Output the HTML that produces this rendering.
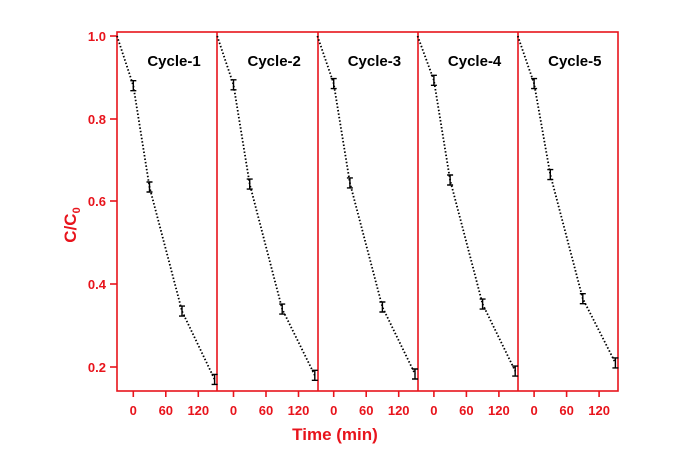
<!DOCTYPE html><html><head><style>body{margin:0;background:#fff}</style></head><body>
<svg width="697" height="460" xmlns="http://www.w3.org/2000/svg" font-family="Liberation Sans, Arial, sans-serif" font-weight="bold">
<defs>
<g id="ticks" stroke="#e8141c" stroke-width="1.6">
<line x1="16.3" y1="391" x2="16.3" y2="397"/><line x1="48.8" y1="391" x2="48.8" y2="397"/><line x1="81.3" y1="391" x2="81.3" y2="397"/>
</g>
<g id="tl" fill="#e8141c" font-size="13" text-anchor="middle">
<text x="16.3" y="415">0</text><text x="48.8" y="415">60</text><text x="81.3" y="415">120</text>
</g>
</defs>
<g stroke="#e8141c" stroke-width="1.6" fill="none">
<rect x="117" y="32" width="501" height="359"/>
<line x1="217" y1="32" x2="217" y2="391"/><line x1="318" y1="32" x2="318" y2="391"/>
<line x1="418" y1="32" x2="418" y2="391"/><line x1="518" y1="32" x2="518" y2="391"/>
<line x1="110" y1="36" x2="117" y2="36"/><line x1="110" y1="119" x2="117" y2="119"/>
<line x1="110" y1="201" x2="117" y2="201"/><line x1="110" y1="284" x2="117" y2="284"/>
<line x1="110" y1="367" x2="117" y2="367"/>
</g>
<g fill="#e8141c" font-size="13" text-anchor="end">
<text x="106" y="41">1.0</text><text x="106" y="124">0.8</text><text x="106" y="206">0.6</text><text x="106" y="289">0.4</text><text x="106" y="372">0.2</text>
</g>
<text transform="translate(76,225) rotate(-90)" fill="#e8141c" font-size="17" text-anchor="middle">C/C<tspan font-size="11" dy="4">0</tspan></text>
<text x="335" y="440" fill="#e8141c" font-size="17" text-anchor="middle">Time (min)</text>

<g transform="translate(117,0)">
<use href="#ticks"/><use href="#tl"/>
<text x="57" y="66" font-size="15" text-anchor="middle">Cycle-1</text>
<polyline points="0,36 16.3,85.7 32.5,187 65,311.1 97.6,379.4" fill="none" stroke="#000" stroke-width="1.8" stroke-dasharray="1.5,2"/>
<path d="M13.3,80.7h6m-3,0v10m-3,0h6M29.5,182h6m-3,0v10m-3,0h6M62,306.1h6m-3,0v10m-3,0h6M94.6,374.4h6m-3,0v10m-3,0h6" stroke="#000" stroke-width="1.4" fill="none"/>
</g>
<g transform="translate(217.2,0)">
<use href="#ticks"/><use href="#tl"/>
<text x="57" y="66" font-size="15" text-anchor="middle">Cycle-2</text>
<polyline points="0,36 16.3,84.8 32.5,184.1 65,309.1 97.6,375.3" fill="none" stroke="#000" stroke-width="1.8" stroke-dasharray="1.5,2"/>
<path d="M13.3,79.8h6m-3,0v10m-3,0h6M29.5,179.1h6m-3,0v10m-3,0h6M62,304.1h6m-3,0v10m-3,0h6M94.6,370.3h6m-3,0v10m-3,0h6" stroke="#000" stroke-width="1.4" fill="none"/>
</g>
<g transform="translate(317.4,0)">
<use href="#ticks"/><use href="#tl"/>
<text x="57" y="66" font-size="15" text-anchor="middle">Cycle-3</text>
<polyline points="0,36 16.3,83.6 32.5,182.9 65,307 97.6,374" fill="none" stroke="#000" stroke-width="1.8" stroke-dasharray="1.5,2"/>
<path d="M13.3,78.6h6m-3,0v10m-3,0h6M29.5,177.9h6m-3,0v10m-3,0h6M62,302h6m-3,0v10m-3,0h6M94.6,369h6m-3,0v10m-3,0h6" stroke="#000" stroke-width="1.4" fill="none"/>
</g>
<g transform="translate(417.6,0)">
<use href="#ticks"/><use href="#tl"/>
<text x="57" y="66" font-size="15" text-anchor="middle">Cycle-4</text>
<polyline points="0,36 16.3,80.3 32.5,180 65,304.1 97.6,371.1" fill="none" stroke="#000" stroke-width="1.8" stroke-dasharray="1.5,2"/>
<path d="M13.3,75.3h6m-3,0v10m-3,0h6M29.5,175h6m-3,0v10m-3,0h6M62,299.1h6m-3,0v10m-3,0h6M94.6,366.1h6m-3,0v10m-3,0h6" stroke="#000" stroke-width="1.4" fill="none"/>
</g>
<g transform="translate(517.8,0)">
<use href="#ticks"/><use href="#tl"/>
<text x="57" y="66" font-size="15" text-anchor="middle">Cycle-5</text>
<polyline points="0,36 16.3,83.6 32.5,174.6 65,298.7 97.6,362.9" fill="none" stroke="#000" stroke-width="1.8" stroke-dasharray="1.5,2"/>
<path d="M13.3,78.6h6m-3,0v10m-3,0h6M29.5,169.6h6m-3,0v10m-3,0h6M62,293.7h6m-3,0v10m-3,0h6M94.6,357.9h6m-3,0v10m-3,0h6" stroke="#000" stroke-width="1.4" fill="none"/>
</g>
</svg></body></html>
